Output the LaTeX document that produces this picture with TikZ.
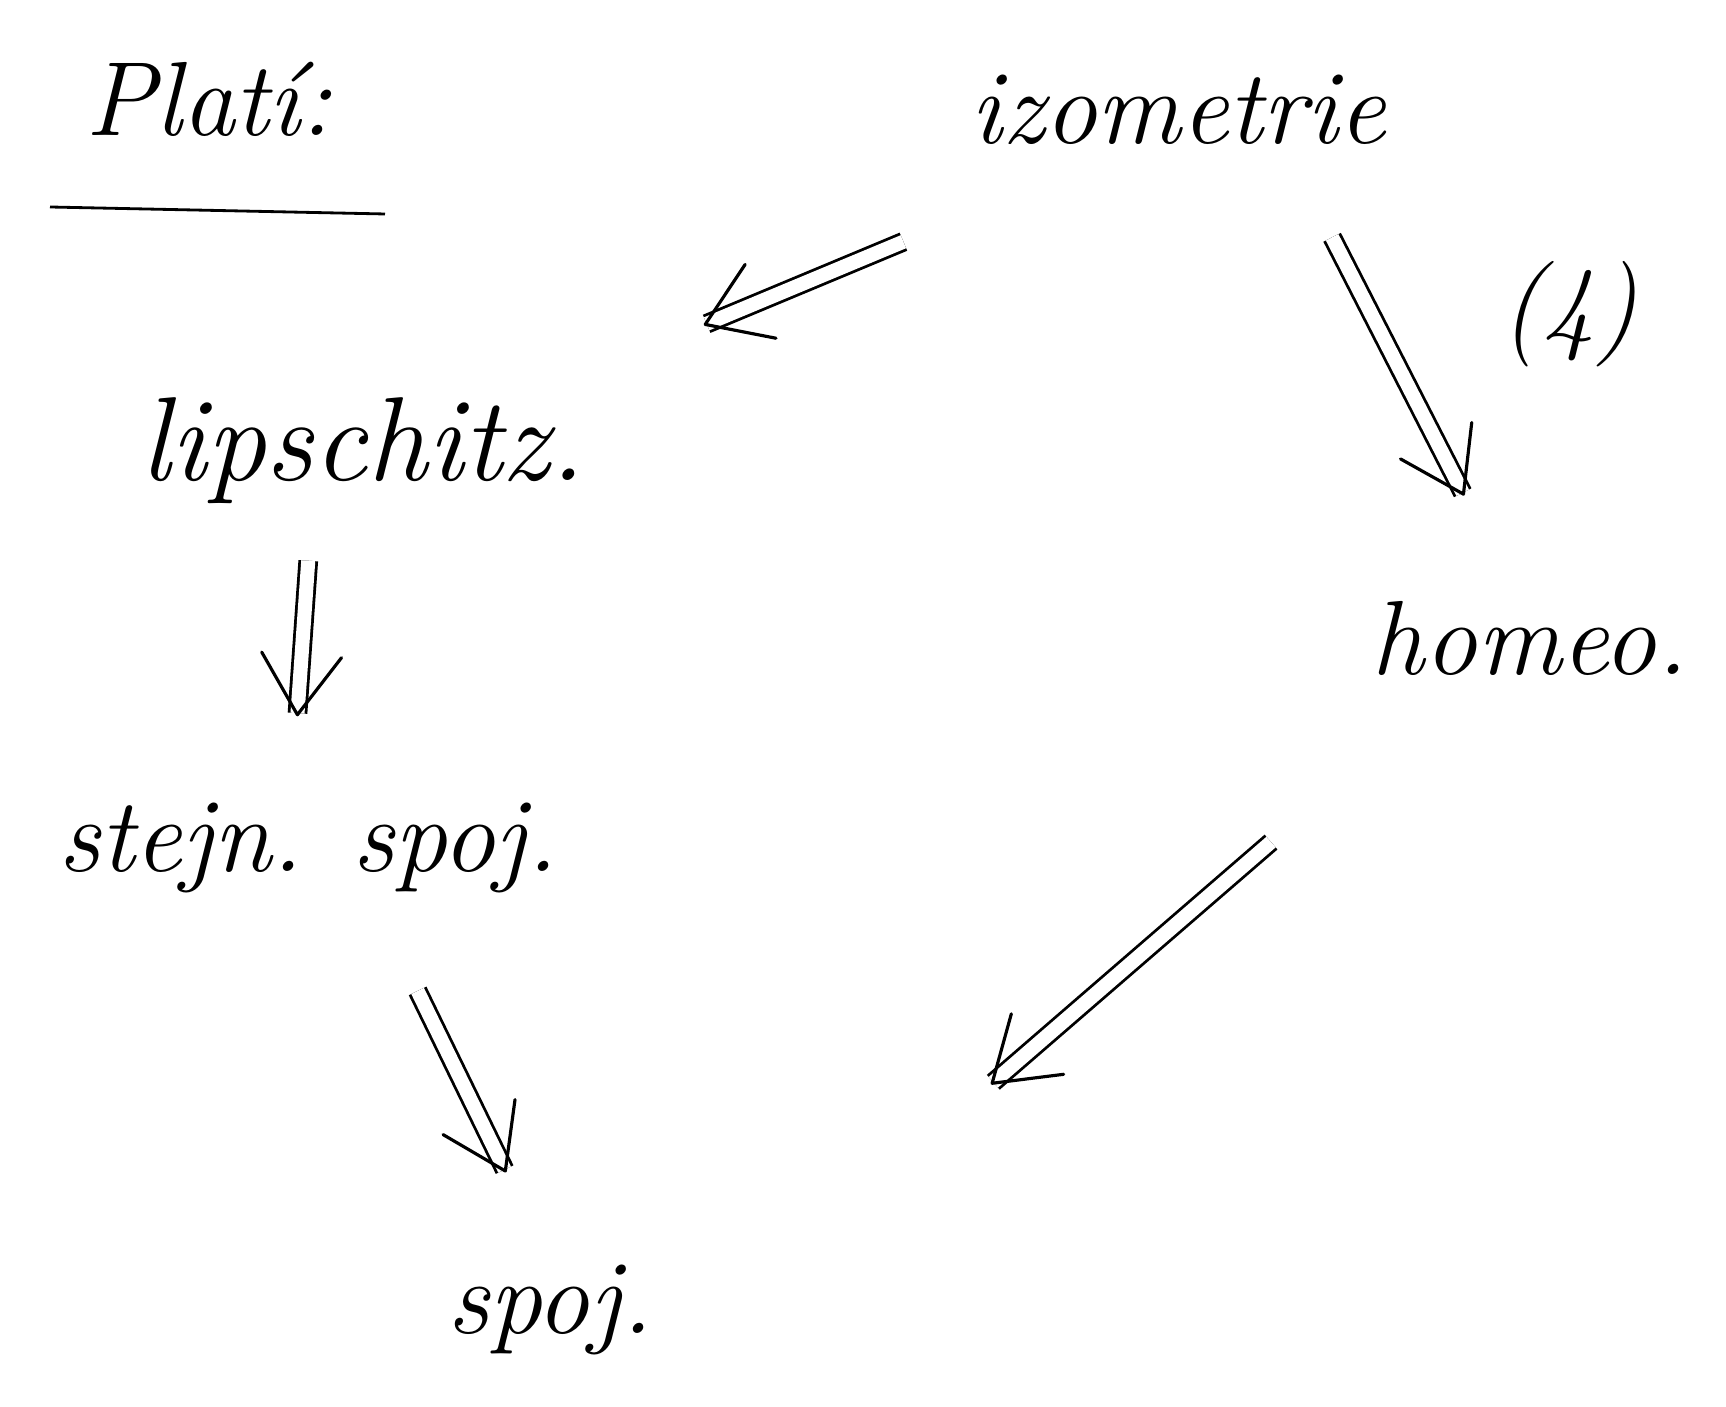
\documentclass[tikz,border=0pt]{standalone}
\usepackage{fontspec}
\usetikzlibrary{arrows.meta}
\tikzset{
  hand/.style={font=\fontsize{30}{36}\selectfont\itshape, inner sep=0pt},
  impl/.style={double, double distance=4pt, line width=0.8pt,
    -{Straight Barb[length=6mm, width=8mm, line width=0.9pt, round]}},
}
\begin{document}
\begin{tikzpicture}
      \useasboundingbox (0,0) rectangle (17.26,-14.07);
      \draw[hand]
        (2.09,-0.99) node (plati){Platí:}
        (11.78,-1.10) node (izo){izometrie}
        (3.63,-4.51) node[font=\fontsize{34}{40}\selectfont\itshape] (lip){lipschitz.}
        (3.08,-8.48) node (stejn){stejn. spoj.}
        (5.50,-13.10) node (spoj){spoj.}
        (15.30,-6.38) node (homeo){homeo.}
        (15.69,-3.14) node (four){(4)};
      \draw[line width=0.8pt] (0.50,-2.07) -- (3.85,-2.14);
      \draw[impl, shorten <=3.42cm, shorten >=3.27cm] ([xshift=0.41cm]izo.center) to ([xshift=0.39cm]lip.center);
      \draw[impl, shorten <=1.43cm, shorten >=1.60cm] ([xshift=0.89cm]izo.center) to ([xshift=0.07cm]homeo.center);
      \draw[impl, shorten <=1.10cm, shorten >=1.32cm] ([xshift=-0.47cm]lip.center) to ([xshift=-0.20cm]stejn.center);
      \draw[impl, shorten <=1.59cm, shorten >=1.53cm] ([xshift=0.40cm]stejn.center) to ([xshift=0.23cm]spoj.center);
      \draw[impl, shorten <=3.12cm, shorten >=3.45cm] ([xshift=-0.23cm]homeo.center) to ([xshift=1.80cm]spoj.center);
    \end{tikzpicture}
\end{document}
